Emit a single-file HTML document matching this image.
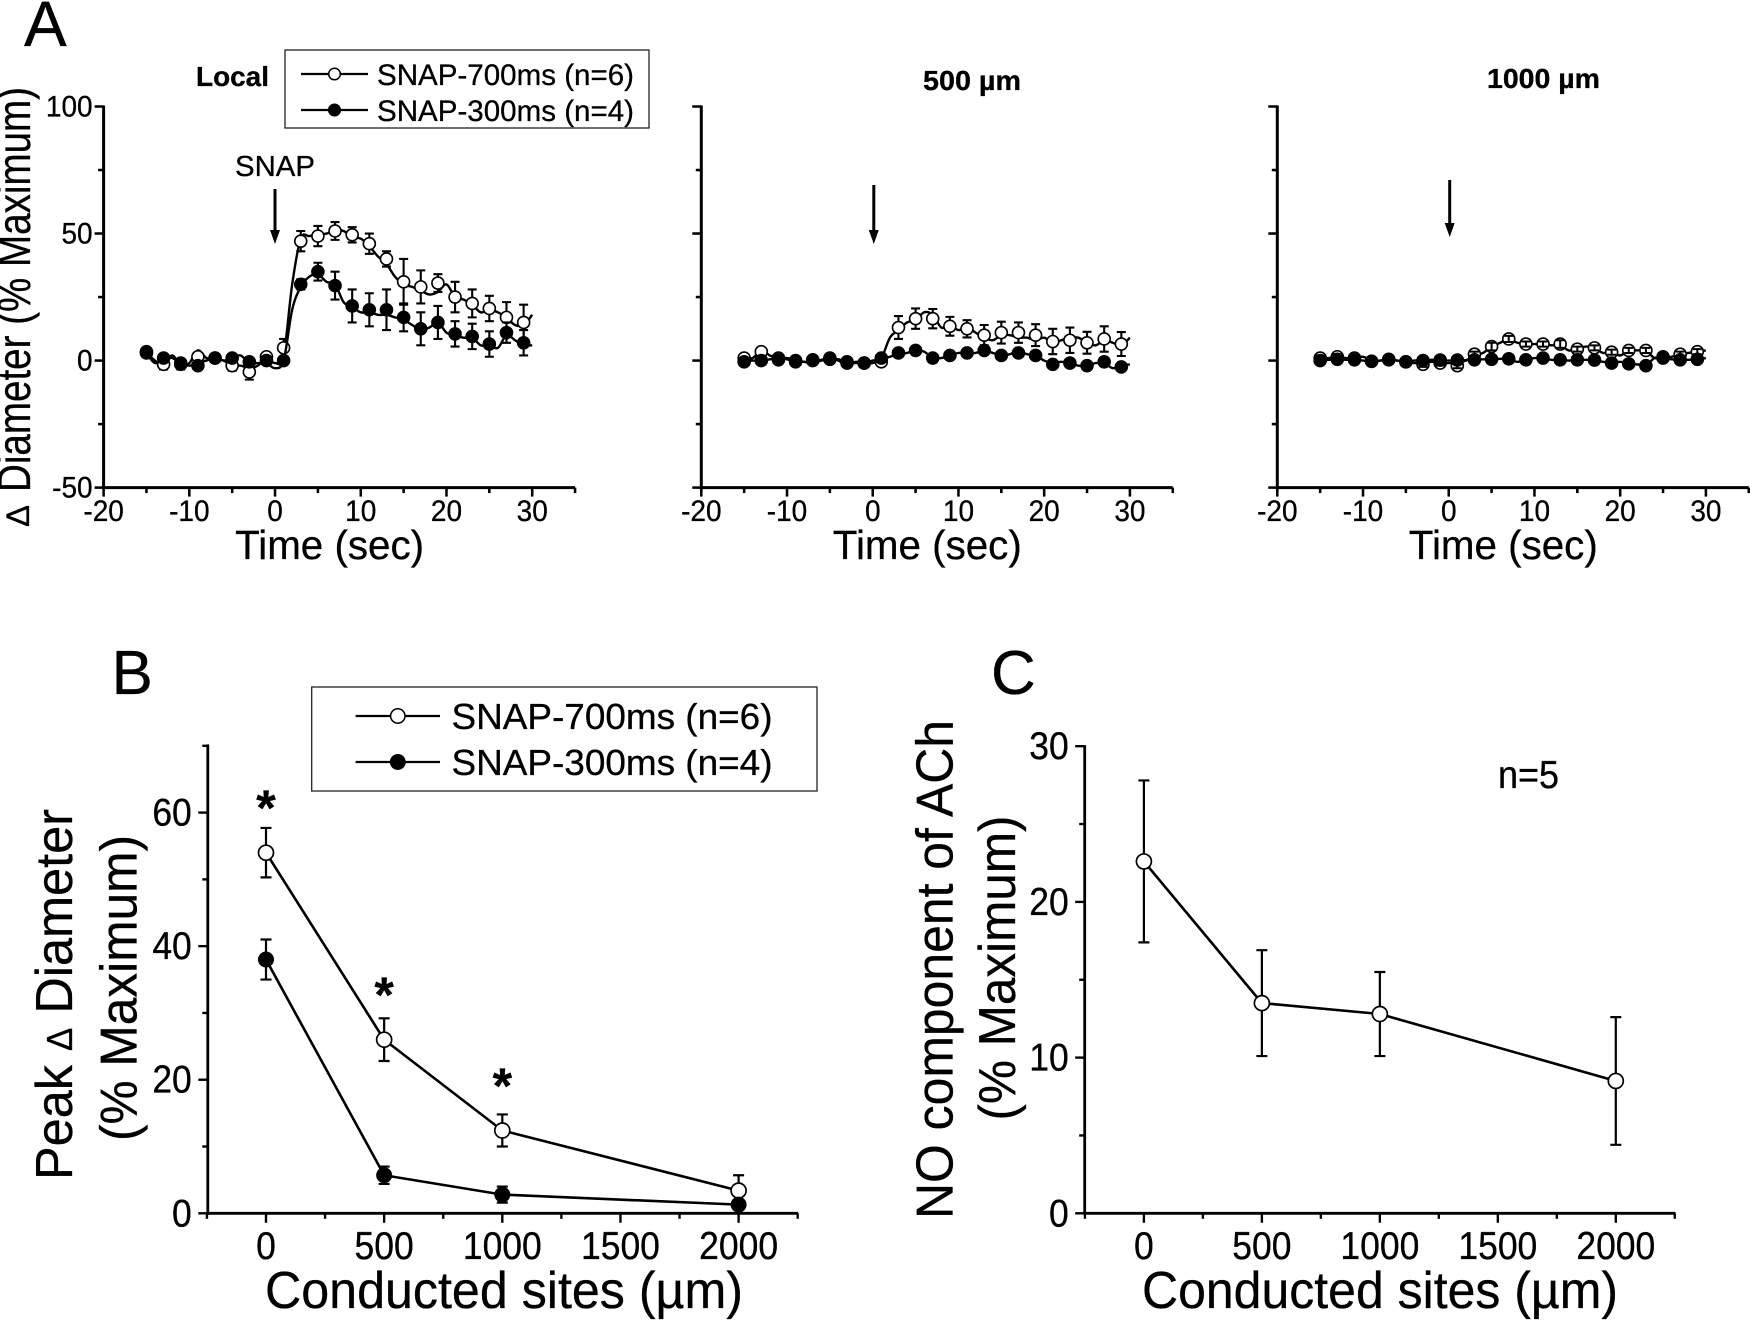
<!DOCTYPE html>
<html lang="en">
<head>
<meta charset="utf-8">
<title>SNAP conducted vasodilation figure</title>
<style>
html,body{margin:0;padding:0;background:#fff;}
svg{display:block;font-family:"Liberation Sans",Arial,sans-serif;}
text{fill:#000;stroke:#000;stroke-width:0.3px;}
</style>
</head>
<body>
<svg id="figure" xmlns="http://www.w3.org/2000/svg" width="1750" height="1320" viewBox="0 0 1750 1320"></svg>
<script>
// ---------- Panel A data ----------
const markerTimes = [-15,-13,-11,-9,-7,-5,-3,-1,1,3,5,7,9,11,13,15,17,19,21,23,25,27,29];
const traceTimes = [-15,-14,-13,-12,-11,-10,-9,-8,-7,-6,-5,-4,-3,-2,-1,0,1,2,3,4,5,6,7,8,9,10,11,12,13,14,15,16,17,18,19,20,21,22,23,24,25,26,27,28,29,30];
const timeTickValues = [-20,-15,-10,-5,0,5,10,15,20,25,30,35];
const timeTickLabels = ['-20','','-10','','0','','10','','20','','30',''];
const diameterTickValues = [-50,-25,0,25,50,75,100];
const diameterTickLabels = ['-50','','0','','50','','100'];

const localWhite = [3,-1.5,-1.5,1.5,1,-2,-4.5,1.5,5,47,49,51,49.5,46,40,31,29,30.5,25,22.5,20.5,17,15];
const localWhiteErr = [1,2,2,1.5,1,2,3,1.5,3.5,4,4,3.5,3,4,3,9,6.5,3.5,6,5.5,5,6,7];
const localBlack = [3.5,1,-1,-2,1,1,-0.5,0,0,30,35,29.5,21.5,20,20,17,12.5,15,10.5,9.5,6.5,11,7];
const localBlackErr = [1,1,1,1,1,1,1,1,1,2,3.5,5.5,6.5,6.5,8,5.5,6.5,6.5,5,5,5,4,5];
const localWhiteTrace = [3,0,-2,2,-2,-1,4,1,1,0,-2,-2,-3,-2,1,-1,2,30,48,49,49.5,50,51,51,48.5,48,45,41,38,33,30,29,27.5,26,27,30,25,24,22,19,20,19,17,14,14,18];
const localBlackTrace = [3,-1,1,1,-1,-2,-1,0,1,0,1,2,-1,-1,-1,-3,0,20,29,33,34,31,30,23,21,19,19,18,18,17,16,14,12,13,15,11,10,9,9,6,6,5,10,8,6,6];

const mid500White = [1,3.5,1,0,0,1,-1,-1,-0.5,13,16.5,16.5,13.5,12.5,10,11,11,10,7.5,8,7,8.5,6.5];
const mid500WhiteErr = [0.5,1,0.5,0.5,0.5,0.5,0.5,0.5,1.5,4.5,4,3.8,3.7,3.4,4,4.3,4,4.3,5,5,4.3,5,4.7];
const mid500Black = [-0.5,0,0.3,-0.5,0.3,0.5,-0.5,-1,1,3,4,1,2,3,4,2,3,2,-1.5,-1,-2,-0.5,-2.5];
const mid500BlackErr = [0.5,0.5,0.5,0.5,0.5,0.5,0.5,0.5,0.5,1.5,0.5,0.5,0.5,0.5,0.5,0.5,1.5,1,0.5,0.5,0.5,1.2,0.5];
const mid500WhiteTrace = [1,1,4,2,1,1,0,-0.5,-1,0,0.5,0,-2,-0.5,-1,0,1,9,12,15,16,19,18,13,14,12,13,11,9,8,10,10,9,9,8,9,7,8,9,9,7,6,8,7,6,9];
const mid500BlackTrace = [-0.5,0,0,0.5,1,0.5,-0.5,-0.5,-1,0.3,0.5,0.5,-1,-1,-1,-1,0.5,1.5,2.5,3,4,3.5,1,1,2,3,3,3,4,3,2,2.5,3.5,2.5,2,0,-1,-0.5,-1,-2,-2,-1,-1,-3,-2,-1.5];

const far1000White = [1,1.5,1,-0.3,0.5,-0.5,-1.5,-1,-2,2.5,5.5,8.5,6.5,6.5,6.5,4.5,5,3.3,4,4,1.5,2.5,3.5];
const far1000WhiteErr = [1,1,1,0.5,0.5,0.5,1,1,1,1,1.5,1.2,1,1,1.5,1,1,1,1,1,0.5,1,1];
const far1000Black = [0,0.5,0.3,-0.3,0.3,-0.5,0,0.2,0.2,0.3,0.5,0.7,0.3,1,0.3,0.3,0.2,-1,-1.3,-2,1,0.3,0.5];
const far1000BlackErr = [0.5,0.5,0.5,0.5,0.5,0.5,0.5,0.5,0.5,0.5,1,0.5,0.5,0.5,0.5,0.5,0.5,0.5,0.5,0.5,0.5,0.5,0.5];
const far1000WhiteTrace = [1,1,1.5,1,1,1.5,0,0,0.5,0,-0.5,-1,-1,-0.5,-1,-1,-1,0,2,3,5.5,7,8.5,7,6.5,6.5,6.5,6,6,4,4.5,5.5,5,3,3.5,2,4,4,4,1,1.5,1.5,2.5,3,3.5,4];
const far1000BlackTrace = [0,0.3,0.5,0.3,0.3,0,-0.3,0,0.3,0,-0.5,0,0,0.3,0.2,0,0.2,0.2,0.3,0.5,0.5,0.7,0.7,-0.5,0.3,1,1,0.3,0.3,0,0.3,0.3,0.2,-0.5,-1,-0.5,-1.3,-1.5,-2,1,1,0.5,0.3,0.3,0.5,1];

// ---------- Panels B and C data ----------
const sites = [0,500,1000,2000];
const siteTickValues = [-250,0,250,500,750,1000,1250,1500,1750,2000,2250];
const siteTickLabels = ['','0','','500','','1000','','1500','','2000',''];
const peakTickValues = [0,10,20,30,40,50,60,70];
const peakTickLabels = ['0','','20','','40','','60',''];
const peak700 = [54,26,12.4,3.4];
const peak700Err = [3.7,3.2,2.4,2.3];
const peak300 = [38,5.7,2.8,1.3];
const peak300Err = [3,1.3,1.2,0.5];
const significantSites = [0,500,1000];
const significantLabels = ['*','*','*'];
const noTickValues = [0,5,10,15,20,25,30];
const noTickLabels = ['0','','10','','20','','30'];
const noComponent = [22.6,13.5,12.8,8.5];
const noComponentErr = [5.2,3.4,2.7,4.1];

// ---------- helpers ----------
const svg = document.getElementById('figure');
const NS = 'http://www.w3.org/2000/svg';
function mk(tag, attrs, parent) {
  const n = document.createElementNS(NS, tag);
  for (const k in attrs) n.setAttribute(k, attrs[k]);
  (parent || svg).appendChild(n);
  return n;
}
function scale(d0, d1, p0, p1) {
  return v => p0 + (v - d0) * (p1 - p0) / (d1 - d0);
}
function smoothPath(pts) {
  let d = 'M' + pts[0][0].toFixed(2) + ' ' + pts[0][1].toFixed(2);
  for (let i = 0; i < pts.length - 1; i++) {
    const p0 = pts[Math.max(0, i - 1)], p1 = pts[i], p2 = pts[i + 1], p3 = pts[Math.min(pts.length - 1, i + 2)];
    const c1x = p1[0] + (p2[0] - p0[0]) / 6, c1y = p1[1] + (p2[1] - p0[1]) / 6;
    const c2x = p2[0] - (p3[0] - p1[0]) / 6, c2y = p2[1] - (p3[1] - p1[1]) / 6;
    d += 'C' + c1x.toFixed(2) + ' ' + c1y.toFixed(2) + ' ' + c2x.toFixed(2) + ' ' + c2y.toFixed(2) + ' ' + p2[0].toFixed(2) + ' ' + p2[1].toFixed(2);
  }
  return d;
}
function drawText(str, x, y, size, opts) {
  const o = opts || {};
  const a = {'font-size': size};
  if (o.stretch) { a.x = 0; a.y = 0; a.transform = 'translate(' + x + ' ' + y + ') scale(1 ' + o.stretch + ')'; }
  else { a.x = x; a.y = y; }
  if (o.anchor) a['text-anchor'] = o.anchor;
  if (o.bold) a['font-weight'] = 'bold';
  if (o.length) { a.textLength = o.length; a.lengthAdjust = 'spacingAndGlyphs'; }
  const t = mk('text', a, o.parent);
  t.textContent = str;
  
  
  return t;
}
function drawVerticalText(str, x, y, size, length, name) {
  const t = mk('text', {transform: 'translate(' + x + ' ' + y + ') rotate(-90)', 'font-size': size, textLength: length, lengthAdjust: 'spacingAndGlyphs'});
  t.textContent = str;
  
  
  return t;
}
function drawAxes(c) {
  const g = mk('g', {});
  
  
  const yAxis = mk('line', {x1: c.left, x2: c.left, y1: c.top - 1, y2: c.bottom + c.sw / 2, stroke: '#000', 'stroke-width': c.sw}, g);
  
  
  const xAxis = mk('line', {x1: c.left - c.sw / 2, x2: c.right, y1: c.bottom, y2: c.bottom, stroke: '#000', 'stroke-width': c.sw}, g);
  
  
  c.yTicks.forEach((v, i) => {
    const lab = c.yLabels[i];
    const major = i % 2 === 0;
    const len = major ? c.major : c.minor;
    const tick = mk('line', {x1: c.left - len, x2: c.left, y1: c.y(v), y2: c.y(v), stroke: '#000', 'stroke-width': c.sw * 0.85}, g);
    
    
    if (lab && c.showYLabels) {
      drawText(lab, c.left + c.yLabelDx, c.y(v) + c.yLabelDy, c.tickSize, {anchor: 'end', name: 'y-tick-label', parent: g, stretch: c.tickStretch});
    }
  });
  c.xTicks.forEach((v, i) => {
    const lab = c.xLabels[i];
    const major = c.xMajor(i);
    const len = major ? c.major : c.minor;
    const tick = mk('line', {x1: c.x(v), x2: c.x(v), y1: c.bottom, y2: c.bottom + len, stroke: '#000', 'stroke-width': c.sw * 0.85}, g);
    
    
    if (lab) {
      drawText(lab, c.x(v), c.xLabelY, c.tickSize, {anchor: 'middle', name: 'x-tick-label', parent: g, stretch: c.tickStretch});
    }
  });
}
function drawErrors(xs, ys, errs, c, capHalf, sw, name) {
  xs.forEach((xv, i) => {
    const px = c.x(xv), hi = c.y(ys[i] + errs[i]), lo = c.y(ys[i] - errs[i]);
    const bar = mk('path', {d: 'M' + px + ' ' + hi + 'V' + lo + 'M' + (px - capHalf) + ' ' + hi + 'H' + (px + capHalf) + 'M' + (px - capHalf) + ' ' + lo + 'H' + (px + capHalf), stroke: '#000', 'stroke-width': sw, fill: 'none'});
    
    
  });
}
function drawMarkers(xs, ys, c, r, filled, sw, name) {
  xs.forEach((xv, i) => {
    const m = mk('circle', {cx: c.x(xv), cy: c.y(ys[i]), r: r, fill: filled ? '#000' : '#fff', stroke: '#000', 'stroke-width': sw});
    
    
  });
}
function drawArrow(x, y1, y2, name) {
  const shaft = mk('line', {x1: x, x2: x, y1: y1, y2: y2 - 10, stroke: '#000', 'stroke-width': 3});
  
  
  const head = mk('path', {d: 'M' + (x - 5) + ' ' + (y2 - 14) + 'L' + (x + 5) + ' ' + (y2 - 14) + 'L' + x + ' ' + y2 + 'Z', fill: '#000'});
  
  
}

// ---------- Panel A ----------
const panelA = [
  {name: 'local', left: 103.6, labels: true, arrow: [275, 189, 244],
   white: localWhite, whiteErr: localWhiteErr, black: localBlack, blackErr: localBlackErr, whiteTrace: localWhiteTrace, blackTrace: localBlackTrace, errOnTop: false},
  {name: 'site-500', left: 701.3, labels: false, arrow: [873.8, 185, 244],
   white: mid500White, whiteErr: mid500WhiteErr, black: mid500Black, blackErr: mid500BlackErr, whiteTrace: mid500WhiteTrace, blackTrace: mid500BlackTrace, errOnTop: false},
  {name: 'site-1000', left: 1277.3, labels: false, arrow: [1449.7, 180, 237],
   white: far1000White, whiteErr: far1000WhiteErr, black: far1000Black, blackErr: far1000BlackErr, whiteTrace: far1000WhiteTrace, blackTrace: far1000BlackTrace, errOnTop: true}
];
panelA.forEach(p => {
  const c = {
    name: p.name, sw: 3, left: p.left, right: p.left + 471.5, top: 106.5, bottom: 487.6, major: 9, minor: 5.5,
    x: scale(-20, 30, p.left, p.left + 428.6), y: scale(-50, 100, 487.6, 106.5),
    xTicks: timeTickValues, xLabels: timeTickLabels, yTicks: diameterTickValues, yLabels: diameterTickLabels,
    xMajor: i => i % 2 === 0, showYLabels: p.labels, tickSize: 28, yLabelDx: -11, yLabelDy: 10, xLabelY: 521, tickStretch: 1.06
  };
  drawAxes(c);
  const whiteLine = mk('path', {d: smoothPath(traceTimes.map((t, i) => [c.x(t), c.y(p.whiteTrace[i])])), fill: 'none', stroke: '#000', 'stroke-width': 2.4});
  
  
  if (!p.errOnTop) drawErrors(markerTimes, p.white, p.whiteErr, c, 4.5, 2.1, p.name + '-snap-700');
  drawMarkers(markerTimes, p.white, c, 6, false, 1.6, p.name + '-snap-700');
  if (p.errOnTop) drawErrors(markerTimes, p.white, p.whiteErr, c, 4.5, 2, p.name + '-snap-700');
  const blackLine = mk('path', {d: smoothPath(traceTimes.map((t, i) => [c.x(t), c.y(p.blackTrace[i])])), fill: 'none', stroke: '#000', 'stroke-width': 2.4});
  
  
  drawErrors(markerTimes, p.black, p.blackErr, c, 4.5, 2.1, p.name + '-snap-300');
  drawMarkers(markerTimes, p.black, c, 6.3, true, 1, p.name + '-snap-300');
  drawArrow(p.arrow[0], p.arrow[1], p.arrow[2], p.name + '-snap-arrow');
  drawText('Time (sec)', p.left + 131.5, 559, 41, {name: 'x-axis-title', length: 189});
});
drawText('A', 24, 46, 64, {name: 'panel-a-label'});
drawText('Local', 196, 86, 28, {bold: true, name: 'local-panel-title', length: 73});
drawText('500 µm', 923, 90, 28, {bold: true, name: 'site-500-panel-title', length: 98});
drawText('1000 µm', 1487, 88, 28, {bold: true, name: 'site-1000-panel-title', length: 113});
drawText('SNAP', 235, 176, 29, {name: 'snap-annotation', length: 80});
drawVerticalText('Diameter (% Maximum)', 30, 492, 46, 405, 'local-y-axis-title');
drawVerticalText('Δ', 29, 527, 32, 22, 'local-y-axis-delta');

function drawLegend(name, bx, by, bw, bh, lineX1, lineX2, rows, textX, size, len, r) {
  const g = mk('g', {});
  
  
  const box = mk('rect', {x: bx, y: by, width: bw, height: bh, fill: '#fff', stroke: '#222', 'stroke-width': 1.3}, g);
  
  
  rows.forEach(row => {
    const sample = mk('line', {x1: lineX1, x2: lineX2, y1: row.y, y2: row.y, stroke: '#000', 'stroke-width': 2.2}, g);
    
    
    const dot = mk('circle', {cx: (lineX1 + lineX2) / 2, cy: row.y, r: r, fill: row.filled ? '#000' : '#fff', stroke: '#000', 'stroke-width': 1.5}, g);
    
    
    drawText(row.label, textX, row.y + size * 0.36, size, {name: name + '-entry', parent: g, length: len});
  });
}
drawLegend('legend-a', 285, 50, 364, 78, 301, 368, [
  {y: 74, filled: false, label: 'SNAP-700ms (n=6)'},
  {y: 110, filled: true, label: 'SNAP-300ms (n=4)'}
], 377, 30, 257, 5.8);

// ---------- Panel B ----------
const cB = {
  name: 'peak', sw: 2.8, left: 207.8, right: 798, top: 745.4, bottom: 1213.3, major: 9.5, minor: 5.5,
  x: scale(0, 2000, 266, 738.6), y: scale(0, 60, 1213.3, 812.6),
  xTicks: siteTickValues, xLabels: siteTickLabels, yTicks: peakTickValues, yLabels: peakTickLabels,
  xMajor: i => i % 2 === 1, showYLabels: true, tickSize: 35.5, yLabelDx: -16, yLabelDy: 13, xLabelY: 1259, tickStretch: 1.1
};
drawAxes(cB);
function drawSeriesLine(xs, ys, c, name) {
  const l = mk('polyline', {points: xs.map((v, i) => c.x(v) + ',' + c.y(ys[i])).join(' '), fill: 'none', stroke: '#000', 'stroke-width': 2.6});
  
  
}
drawSeriesLine(sites, peak700, cB, 'snap-700');
drawErrors(sites, peak700, peak700Err, cB, 5.5, 2.2, 'snap-700');
drawMarkers(sites, peak700, cB, 7.5, false, 1.7, 'snap-700');
drawSeriesLine(sites, peak300, cB, 'snap-300');
drawErrors(sites, peak300, peak300Err, cB, 5.5, 2.2, 'snap-300');
drawMarkers(sites, peak300, cB, 7.5, true, 1, 'snap-300');
significantSites.forEach((s, i) => {
  const offsets = peak700[i] + 1;
  const star = drawText(significantLabels[i], cB.x(s), cB.y(offsets) - 21, 50, {anchor: 'middle', name: 'significance-asterisk'});
  star.setAttribute('font-weight', 'bold');
});
drawText('B', 111.5, 694, 62, {name: 'panel-b-label'});
const peakTitle = mk('text', {transform: 'translate(72 1180) rotate(-90)', 'font-size': 52, textLength: 371, lengthAdjust: 'spacingAndGlyphs'});


peakTitle.appendChild(document.createTextNode('Peak  '));
const peakDelta = mk('tspan', {'font-size': 36}, peakTitle);
peakDelta.textContent = 'Δ';
peakTitle.appendChild(document.createTextNode('  Diameter'));
drawVerticalText('(% Maximum)', 136.6, 1141, 52, 306, 'peak-y-axis-subtitle');
drawText('Conducted sites (µm)', 265, 1308, 52, {name: 'peak-x-axis-title', length: 478});
drawLegend('legend-b', 311.7, 687, 505.3, 104, 355.6, 440, [
  {y: 716, filled: false, label: 'SNAP-700ms (n=6)'},
  {y: 762, filled: true, label: 'SNAP-300ms (n=4)'}
], 451.5, 36, 321, 7.2);

// ---------- Panel C ----------
const cC = {
  name: 'no-component', sw: 2.8, left: 1084.7, right: 1675.5, top: 746.2, bottom: 1213.3, major: 9.5, minor: 5.5,
  x: scale(0, 2000, 1143.9, 1615.8), y: scale(0, 30, 1213.3, 746.2),
  xTicks: siteTickValues, xLabels: siteTickLabels, yTicks: noTickValues, yLabels: noTickLabels,
  xMajor: i => i % 2 === 1, showYLabels: true, tickSize: 35.5, yLabelDx: -16, yLabelDy: 13, xLabelY: 1259, tickStretch: 1.1
};
drawAxes(cC);
drawSeriesLine(sites, noComponent, cC, 'no-component');
drawErrors(sites, noComponent, noComponentErr, cC, 5.5, 2.2, 'no-component');
drawMarkers(sites, noComponent, cC, 7.5, false, 1.7, 'no-component');
drawText('C', 991, 694, 62, {name: 'panel-c-label'});
drawText('n=5', 1498, 788, 36, {name: 'sample-size-annotation', length: 61, stretch: 1.08});
drawVerticalText('NO component of ACh', 952.5, 1219, 52, 499, 'no-y-axis-title');
drawVerticalText('(% Maximum)', 1015, 1120.5, 52, 305, 'no-y-axis-subtitle');
drawText('Conducted sites (µm)', 1142, 1308, 52, {name: 'no-x-axis-title', length: 476});
</script>
</body>
</html>
